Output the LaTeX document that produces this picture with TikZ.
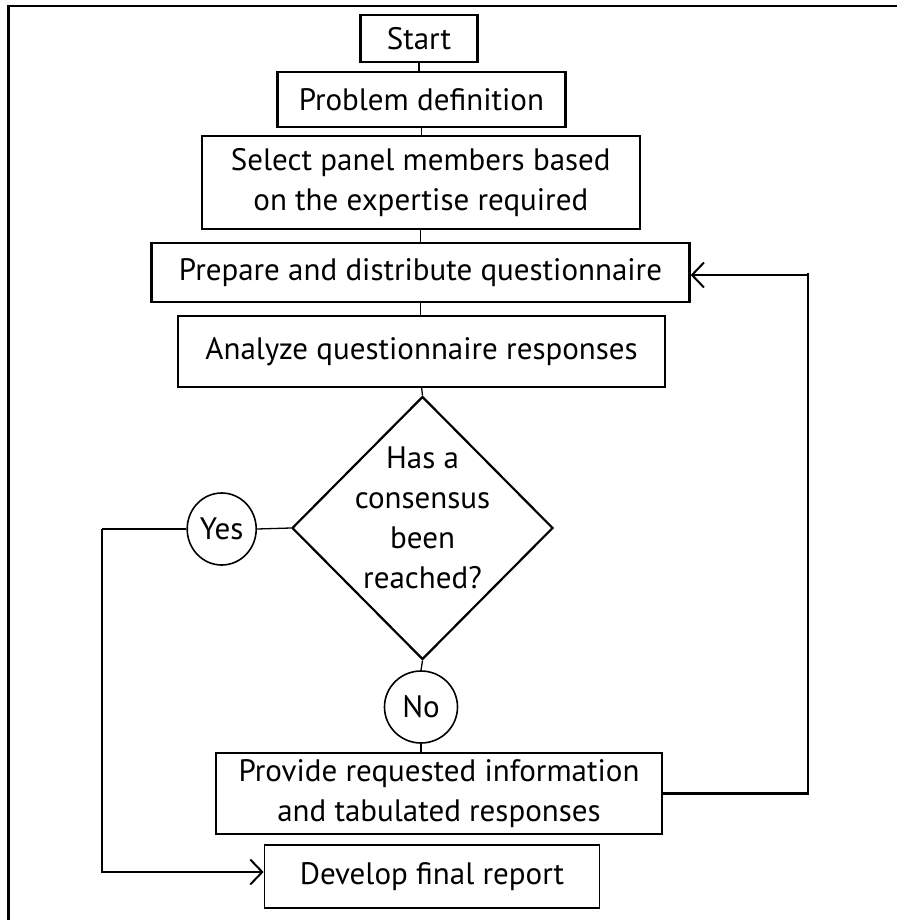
\documentclass[tikz,border=0pt]{standalone}
\usepackage{fontspec}
\setmainfont{PT Sans}
\usetikzlibrary{shapes.geometric,arrows.meta}
\begin{document}
\begin{tikzpicture}[x=1pt,y=-1pt,
 txt/.style={font=\fontsize{31}{40}\selectfont},
 box/.style={draw, line width=2.2pt, rectangle, inner sep=0pt, align=center, txt},
 conn/.style={line width=1.3pt},
 oval/.style={draw, ellipse, line width=1.6pt, inner sep=0pt, txt},
 arr/.style={-{Straight Barb[length=12pt,width=25pt,line width=2pt]}},
 lbl/.style={align=center, inner sep=0pt, txt}]
\useasboundingbox (0,0) rectangle (897,920);
% partial frame
\draw[line width=2.5pt] (8.7,920) -- (8.7,6) -- (897,6);

\node[box, minimum width=117pt, minimum height=47pt] (start) at (419,38.5) {Start};
\node[box, minimum width=288pt, minimum height=55pt] (prob) at (421.4,99.5) {Problem definition};
\node[box, minimum width=438pt, minimum height=93pt] (sel) at (420.8,182.5) {Select panel members based\\on the expertise required};
\node[box, minimum width=538pt, minimum height=59pt] (prep) at (420.5,272.5) {\raisebox{2pt}{Prepare and distribute questionnaire}};
\node[box, line width=1.7pt, minimum width=487pt, minimum height=71pt] (ana) at (421.6,351.5) {\raisebox{2pt}{Analyze questionnaire responses}};
\node[draw, diamond, line width=2.2pt, inner sep=0pt, minimum width=261pt, minimum height=263pt] (dia) at (422.5,528) {};
\node[lbl] (dtext) at (422.5,518) {Has a\\consensus\\been\\reached?};
\node[oval, minimum width=69pt, minimum height=72pt] (yes) at (221.7,529) {Yes};
\node[oval, minimum width=73pt, minimum height=72pt] (no) at (421,707) {No};
\node[box, minimum width=446pt, minimum height=81pt] (prov) at (439,793.5) {Provide requested information\\and tabulated responses};
\node[box, line width=1.7pt, minimum width=335pt, minimum height=63pt] (dev) at (432,876.5) {\raisebox{2pt}{Develop final report}};

\coordinate (yl) at (101.8,529);
\coordinate (pr) at (808,793.5);

\draw[conn] (start.south) -- (start.south |- prob.north);
\draw[conn] (prob.south) -- (prob.south |- sel.north);
\draw[conn] (sel.south) -- (sel.south |- prep.north);
\draw[conn] (prep.south) -- (prep.south |- ana.north);
\draw[conn] (ana.south) -- (dia.north);
\draw[conn] (dia.west) -- (yes.east);
\draw[conn] (dia.south) -- (no.north);
\draw[conn] (no.south) -- (no.south |- prov.north);
\draw[line width=2.3pt] (yes.west) -- (yl);
\draw[line width=1.5pt, arr] (yl) |- ([yshift=4.5pt]dev.west);
\draw[line width=2.5pt] (prov.east) -- (pr) -- (pr |- prep.east);
\draw[line width=1.5pt, arr] ([yshift=-2.5pt]pr |- prep.east) -- ([yshift=-2.5pt]prep.east);
\end{tikzpicture}
\end{document}
